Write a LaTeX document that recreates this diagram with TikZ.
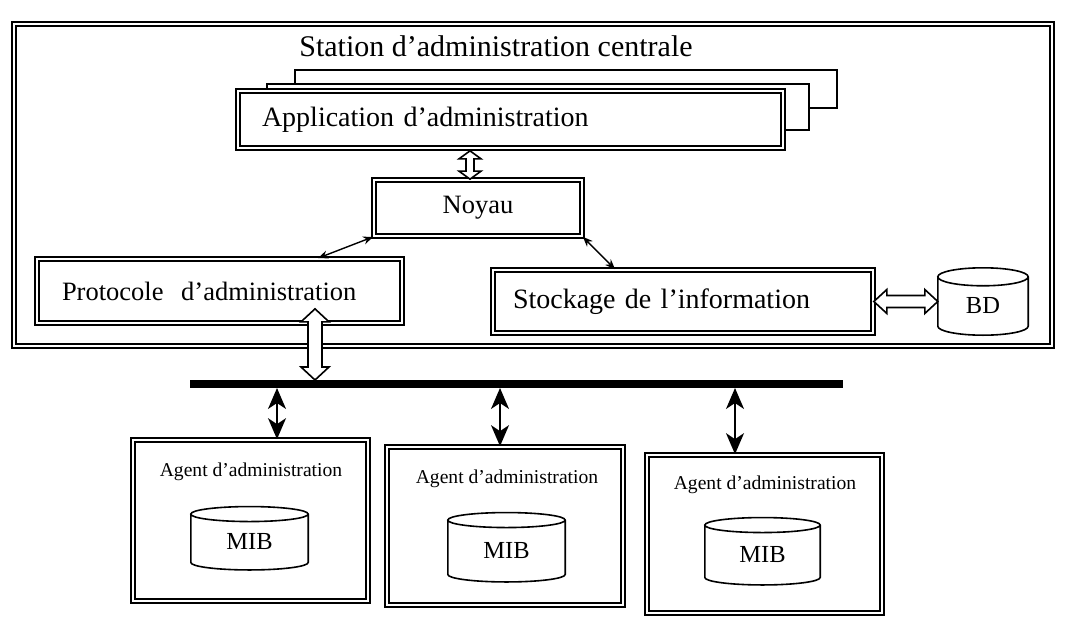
\documentclass[tikz,border=0pt]{standalone}
\usepackage{fontspec}
\setmainfont{Liberation Serif}
\usetikzlibrary{arrows.meta,calc}

\tikzset{
  dblbox/.style={rectangle, draw, double, double distance=2pt, line width=1.7pt, fill=white, inner sep=0pt},
  plainbox/.style={rectangle, draw, line width=1.9pt, fill=white, inner sep=0pt},
  cylbody/.style={rectangle, inner sep=0pt},
  cyl/.style={line width=1.6pt},
  blk/.style={draw, line width=1.6pt, fill=white, line join=miter},
  linkarrow/.style={line width=1.4pt, {Stealth[length=10pt,width=8pt]}-{Stealth[length=10pt,width=8pt]}},
  agentarrow/.style={line width=1.8pt, {Stealth[length=21pt,width=18pt,inset=6pt]}-{Stealth[length=21pt,width=18pt,inset=6pt]}},
  fbig/.style={font=\fontsize{30pt}{34pt}\selectfont},
  fmid/.style={font=\fontsize{28pt}{32pt}\selectfont},
  fsmall/.style={font=\fontsize{26.5pt}{30pt}\selectfont},
  fdb/.style={font=\fontsize{24.5pt}{28pt}\selectfont},
  fagent/.style={font=\fontsize{19.6pt}{23pt}\selectfont},
}

% vertical hollow double arrow: top point, bottom point, shaft half width, head half width, head length
\newcommand\vblockarrow[5]{%
  \draw[blk] let \p1=(#1), \p2=(#2) in
    (\x1,\y1) -- (\x1+#4,\y1-#5) -- (\x1+#3,\y1-#5) -- (\x1+#3,\y2+#5) -- (\x1+#4,\y2+#5)
    -- (\x1,\y2) -- (\x1-#4,\y2+#5) -- (\x1-#3,\y2+#5) -- (\x1-#3,\y1-#5) -- (\x1-#4,\y1-#5) -- cycle;}
% horizontal hollow double arrow: left point, right point, shaft half height, head half height, head length
\newcommand\hblockarrow[5]{%
  \draw[blk] let \p1=(#1), \p2=(#2) in
    (\x1,\y1) -- (\x1+#5,\y1+#4) -- (\x1+#5,\y1+#3) -- (\x2-#5,\y1+#3) -- (\x2-#5,\y1+#4)
    -- (\x2,\y1) -- (\x2-#5,\y1-#4) -- (\x2-#5,\y1-#3) -- (\x1+#5,\y1-#3) -- (\x1+#5,\y1-#4) -- cycle;}
% database drum around a body node: node name, ellipse half height
\newcommand\dbcyl[2]{%
  \draw[cyl] let \p1=(#1.north west), \p2=(#1.south east), \n1={(\x2-\x1)/2} in
    (\x1,\y1) -- (\x1,\y2+#2)
    arc[start angle=180, end angle=360, x radius=\n1, y radius=#2]
    -- (\x2,\y1)
    arc[start angle=0, end angle=180, x radius=\n1, y radius=#2]
    arc[start angle=180, end angle=360, x radius=\n1, y radius=#2];}

\begin{document}
\begin{tikzpicture}[x=1pt,y=-1pt]
\useasboundingbox (0,0) rectangle (1068,618);

% central management station
\node[dblbox, minimum width=1038pt, minimum height=322pt] (frame) at (533,185) {};
\node[fbig, inner sep=0pt] (title) at (496,46) {Station d’administration centrale};
\node[plainbox, minimum width=542pt, minimum height=38pt] (back) at (566,89) {};
\node[plainbox, minimum width=542pt, minimum height=46pt] (mid) at (538,107) {};
\node[dblbox, fmid, minimum width=545pt, minimum height=57pt, text width=497pt, inner xsep=24pt, align=left] (app) at (510.5,119.5) {Application d’administration};

\node[dblbox, fsmall, minimum width=208pt, minimum height=56pt] (noy) at (478,208) {Noyau};
\node[dblbox, fsmall, minimum width=365pt, minimum height=64pt, text width=315pt, inner xsep=25pt, align=left] (proto) at (219.5,291) {Protocole\ \ d’administration};
\node[dblbox, fmid, minimum width=380pt, minimum height=63pt, text width=340pt, inner xsep=20pt, align=left] (stock) at (683,301.5) {Stockage de l’information};

\node[cylbody, fdb, minimum width=90pt, minimum height=58pt] (bd) at (983,306) {BD};
\dbcyl{bd}{9pt}

% internal links
\draw[linkarrow] (noy.south west) -- ([xshift=98.5pt]proto.north);
\draw[linkarrow] (noy.south east) -- ([xshift=-68pt]stock.north);

% network bus
\coordinate (busL) at (190,384);
\coordinate (busR) at (843,384);
\draw[line width=8pt] (busL) -- (busR);

% agents
\node[dblbox, minimum width=235pt, minimum height=161pt] (ag1) at (250.5,520.5) {};
\node[dblbox, minimum width=236pt, minimum height=158pt] (ag2) at (505,526) {};
\node[dblbox, minimum width=235pt, minimum height=158pt] (ag3) at (764.5,534) {};
\node[fagent, inner sep=0pt] (ag1t) at (251,472) {Agent d’administration};
\node[fagent, inner sep=0pt] (ag2t) at (507,479) {Agent d’administration};
\node[fagent, inner sep=0pt] (ag3t) at (765,485) {Agent d’administration};

\node[cylbody, fdb, minimum width=117pt, minimum height=55.5pt] (mib1) at (249.5,542) {MIB};
\node[cylbody, fdb, minimum width=117pt, minimum height=61.5pt] (mib2) at (506.5,551) {MIB};
\node[cylbody, fdb, minimum width=115pt, minimum height=59.5pt] (mib3) at (762.5,555) {MIB};
\dbcyl{mib1}{7.5pt}
\dbcyl{mib2}{7.5pt}
\dbcyl{mib3}{7.5pt}

\coordinate (b1) at (277,388);
\coordinate (b2) at (500,388);
\coordinate (b3) at (735,388);
\draw[agentarrow] (b1) -- (b1 |- ag1.north);
\draw[agentarrow] (b2) -- (b2 |- ag2.north);
\draw[agentarrow] (b3) -- (b3 |- ag3.north);

% hollow double arrows
\coordinate (an1) at ($(noy.north |- app.south)+(-8,2)$);
\coordinate (an2) at ($(noy.north)+(-8,0)$);
\vblockarrow{an1}{an2}{4pt}{11pt}{8pt}
\coordinate (pa) at ($(proto.south)+(95.5,-15)$);
\coordinate (pb) at ($(pa |- busL)+(0,-4)$);
\vblockarrow{pa}{pb}{7pt}{14pt}{13pt}
\coordinate (sb1) at (stock.east);
\coordinate (sb2) at (bd.west |- stock.east);
\hblockarrow{sb1}{sb2}{6pt}{12pt}{13pt}
\end{tikzpicture}
\end{document}
